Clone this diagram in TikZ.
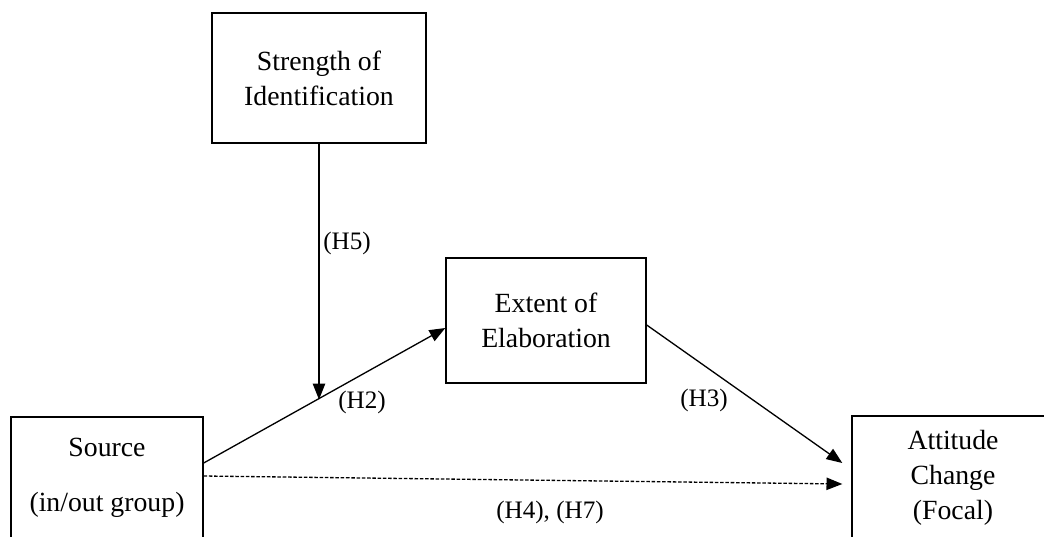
\documentclass[tikz,border=0pt]{standalone}
\usepackage{fontspec}
\setmainfont{Liberation Serif}
\usetikzlibrary{arrows.meta}

\begin{document}
\begin{tikzpicture}[x=0.02cm,y=-0.02cm,line width=0.75pt,
    box/.style={draw,line width=0.8pt,align=center,font=\fontsize{15.8}{19.9}\selectfont},
    hyp/.style={font=\fontsize{14.3}{17}\selectfont},
    >={Triangle[length=9pt,width=7pt]}]
    \clip (0,0) rectangle (1044,537);
    \node[box,minimum width=4.28cm,minimum height=2.6cm] (strength) at (319,78) {Strength of\\Identification};
    \node[box,minimum width=4cm,minimum height=2.5cm] (extent) at (546,320.5) {Extent of\\Elaboration};
    \node[box,minimum width=3.84cm,minimum height=2.44cm] (source) at (107,478) {Source\\[0.4cm](in/out group)};
    \node[box,minimum width=4.04cm,minimum height=2.48cm] (attitude) at (953,478) {Attitude\\Change\\(Focal)};
    \node[hyp] (h5) at (347,243) {(H5)};
    \node[hyp] (h2) at (362,402) {(H2)};
    \node[hyp] (h3) at (704,400) {(H3)};
    \node[hyp] (h47) at (550,512) {(H4), (H7)};
    \draw[->] ([yshift=0.3cm]source.east) -- coordinate[pos=0.47] (meet) ([yshift=-0.15cm]extent.west);
    \path[->] (strength.south) edge (strength.south |- meet)
      ([yshift=-0.09cm]extent.east) edge ([yshift=0.3cm,xshift=-0.18cm]attitude.west);
    \draw[->,dash pattern=on 2pt off 1pt] ([yshift=0.04cm]source.east) -- ([yshift=-0.12cm,xshift=-0.18cm]attitude.west);
\end{tikzpicture}
\end{document}
